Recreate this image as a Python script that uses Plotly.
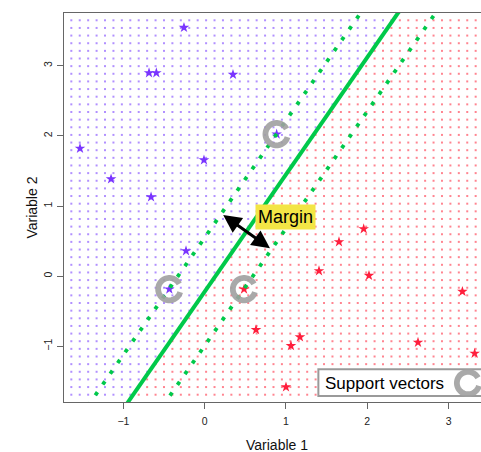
import numpy as np
import plotly.graph_objects as go

# Observations of the two classes
blue_x = [-0.255, -0.685, -0.595, 0.348, -1.534, -1.152, -0.660, -0.009, 0.885, -0.230, -0.435]
blue_y = [3.544, 2.898, 2.898, 2.875, 1.822, 1.385, 1.128, 1.655, 2.025, 0.360, -0.185]
red_x = [0.484, 1.956, 1.652, 1.406, 2.021, 3.170, 1.172, 1.061, 2.624, 3.321, 0.631, 1.000]
red_y = [-0.185, 0.673, 0.488, 0.075, 0.009, -0.219, -0.868, -0.992, -0.945, -1.102, -0.765, -1.580]

# Support vectors (points lying on the margin)
sv_x = [0.885, -0.435, 0.484]
sv_y = [2.025, -0.185, -0.185]

# Separating hyperplane y = intercept + slope * x, and half-width of the margin
intercept = -0.22
slope = 1.67
margin = 0.77

# Classification grid
grid_x = np.linspace(-1.641, 3.437, 50)
grid_y = np.linspace(-1.690, 3.648, 50)

x_ticks = [-1, 0, 1, 2, 3]
y_ticks = [-1, 0, 1, 2, 3]
x_range = [-1.731, 3.399]
y_range = [-1.794, 3.752]

BLUE = "#7a35ff"
RED = "#ff1f3d"
GREEN = "#00c94a"
FONT = "Liberation Sans, Arial, sans-serif"

gx, gy = np.meshgrid(grid_x, grid_y)
gx = gx.ravel()
gy = gy.ravel()
above = gy > intercept + slope * gx

fig = go.Figure()

fig.add_trace(go.Scatter(
    x=gx[above], y=gy[above], mode="markers",
    marker=dict(symbol="square", size=2, color="rgba(125,70,255,0.6)", line=dict(width=0)),
    hoverinfo="skip", showlegend=False))
fig.add_trace(go.Scatter(
    x=gx[~above], y=gy[~above], mode="markers",
    marker=dict(symbol="square", size=2, color="rgba(255,50,70,0.6)", line=dict(width=0)),
    hoverinfo="skip", showlegend=False))

fig.add_trace(go.Scatter(
    x=blue_x, y=blue_y, mode="markers",
    marker=dict(symbol="star", size=8, color=BLUE, line=dict(width=0)),
    showlegend=False))
fig.add_trace(go.Scatter(
    x=red_x, y=red_y, mode="markers",
    marker=dict(symbol="star", size=8, color=RED, line=dict(width=0)),
    showlegend=False))

# Hyperplane and margin boundaries
line_x = np.array([-3.0, 5.0])
fig.add_trace(go.Scatter(
    x=line_x, y=intercept + slope * line_x, mode="lines",
    line=dict(color=GREEN, width=4), hoverinfo="skip", showlegend=False))
for offset in (margin, -margin):
    fig.add_trace(go.Scatter(
        x=line_x, y=intercept + offset + slope * line_x, mode="lines",
        line=dict(color=GREEN, width=3.8, dash="3.8px,9.3px"),
        hoverinfo="skip", showlegend=False))


def ring_path(radius=11.2, gap_from=-15, gap_to=28, n=60):
    ang = np.radians(np.linspace(gap_to, 360 + gap_from, n))
    pts = [f"{radius * np.cos(a):.2f},{radius * np.sin(a):.2f}" for a in ang]
    return "M " + " L ".join(pts)


RING = dict(color="rgba(160,160,160,0.9)", width=5.8)

shapes = []
for sx, sy in zip(sv_x, sv_y):
    shapes.append(dict(type="path", xref="x", yref="y",
                       xsizemode="pixel", ysizemode="pixel",
                       xanchor=sx, yanchor=sy, path=ring_path(),
                       line=RING, layer="above"))

# "Support vectors" key box
shapes.append(dict(type="rect", xref="paper", yref="paper",
                   x0=0.61, x1=1.1, y0=0.0154, y1=0.0841,
                   line=dict(color="#9a9a9a", width=2), fillcolor="white",
                   layer="above"))
shapes.append(dict(type="path", xref="paper", yref="paper",
                   xsizemode="pixel", ysizemode="pixel",
                   xanchor=0.969, yanchor=0.0488, path=ring_path(),
                   line=RING, layer="above"))

annotations = [
    dict(text="Support vectors", xref="paper", yref="paper", x=0.621, y=0.0488,
         xanchor="left", yanchor="middle", showarrow=False,
         font=dict(family=FONT, size=17, color="black")),
    dict(text="", x=0.803, y=0.399, ax=0.209, ay=0.887, xref="x", yref="y",
         axref="x", ayref="y", showarrow=True, arrowside="end+start",
         arrowhead=2, arrowsize=1.2, arrowwidth=3, arrowcolor="black"),
    dict(text="Margin", xref="paper", yref="paper", x=0.5307, y=0.4746,
         xanchor="center", yanchor="middle", showarrow=False,
         bgcolor="#f3e545", borderpad=2,
         font=dict(family=FONT, size=18, color="black")),
    dict(text="Variable 1", xref="paper", yref="paper", x=0.5098, y=-0.110,
         xanchor="center", yanchor="middle", showarrow=False,
         font=dict(family=FONT, size=14, color="#111")),
    dict(text="Variable 2", xref="paper", yref="paper", x=-0.079, y=0.5,
         xanchor="center", yanchor="middle", showarrow=False, textangle=-90,
         font=dict(family=FONT, size=14, color="#111")),
]

fig.update_layout(
    width=481, height=452,
    margin=dict(l=64, r=0, t=13, b=50),
    paper_bgcolor="white", plot_bgcolor="white",
    shapes=shapes, annotations=annotations,
    font=dict(family=FONT, size=10.5, color="#222"),
    xaxis=dict(range=x_range, tickvals=x_ticks, ticks="outside", ticklen=6,
               tickcolor="#666", showgrid=False, zeroline=False,
               showline=True, linecolor="#666", linewidth=1, mirror=True,
               ticklabelstandoff=3),
    yaxis=dict(range=y_range, tickvals=y_ticks, ticks="outside", ticklen=6,
               tickcolor="#666", showgrid=False, zeroline=False,
               showline=True, linecolor="#666", linewidth=1, tickangle=-90,
               ticklabelstandoff=1),
)

fig.write_html("out.html")
